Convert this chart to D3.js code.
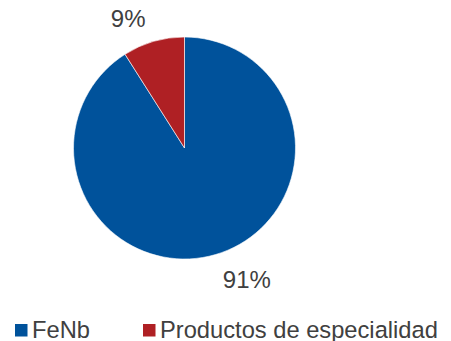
<!DOCTYPE html>
<html>
<head>
<meta charset="utf-8">
<script src="https://cdn.jsdelivr.net/npm/d3@7"></script>
<style>
  html, body { margin: 0; padding: 0; background: #fff; }
  svg { display: block; }
  text { font-family: "Liberation Sans", Arial, sans-serif; fill: #404040; }
</style>
</head>
<body>
<svg id="chart" width="451" height="341"></svg>
<script>
// Product mix shares (%)
const categories = ["FeNb", "Productos de especialidad"];
const shares = [91, 9];
const colors = ["#00529B", "#AF2024"];

const svg = d3.select("#chart");
const cx = 184.5, cy = 148, radius = 111;

const pie = d3.pie().sort(null).value(d => d.value);
const arcs = pie(categories.map((c, i) => ({ name: c, value: shares[i], color: colors[i] })));

const arc = d3.arc().innerRadius(0).outerRadius(radius);

const g = svg.append("g").attr("transform", `translate(${cx},${cy})`);

g.selectAll("path")
  .data(arcs)
  .join("path")
  .attr("d", arc)
  .attr("fill", d => d.data.color)
  .attr("stroke", "#fff")
  .attr("stroke-width", 0.6);

// Value labels just outside each slice, pushed sideways away from the vertical axis
const labelArc = d3.arc().innerRadius(radius + 30).outerRadius(radius + 30);
g.selectAll("text.val")
  .data(arcs)
  .join("text")
  .attr("class", "val")
  .attr("x", d => {
    const [x] = labelArc.centroid(d);
    return x + Math.sign(x) * 20 + 3;
  })
  .attr("y", d => {
    const [, y] = labelArc.centroid(d);
    return y + (y < 0 ? 14 : 5);
  })
  .attr("text-anchor", "middle")
  .attr("font-size", 24)
  .text(d => d3.format(".0f")(d.data.value) + "%");

// Legend
const legendX = [15, 143];
const legend = svg.append("g");
const items = legend.selectAll("g")
  .data(arcs)
  .join("g")
  .attr("transform", (d, i) => `translate(${legendX[i]},324)`);

items.append("rect")
  .attr("width", 12.5)
  .attr("height", 12.5)
  .attr("fill", d => d.data.color);

items.append("text")
  .attr("x", 17)
  .attr("y", 13.5)
  .attr("font-size", 23.7)
  .text(d => d.data.name);
</script>
</body>
</html>
